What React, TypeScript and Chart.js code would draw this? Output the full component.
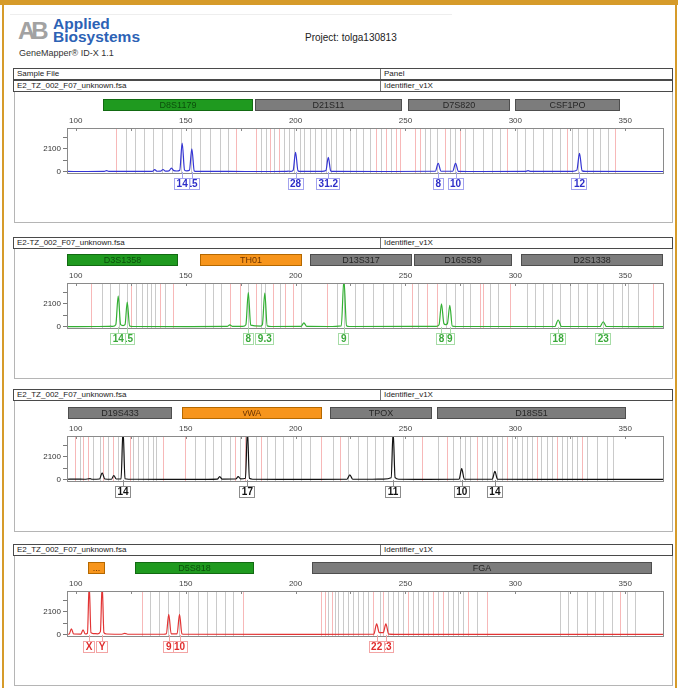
import React, { useEffect, useRef } from "react";
import { Chart, registerables } from "chart.js";
Chart.register(...registerables);

const FONT = "Arial, 'Liberation Sans', Helvetica, sans-serif";

// ---- shared axis data ----
const xTicks = [100, 125, 150, 175, 200, 225, 250, 275, 300, 325, 350];
const xLabelTicks = [100, 150, 200, 250, 300, 350];
const yTicks = [0, 1050, 2100, 3150];
const yLabelTicks = [0, 2100];
const X_MIN = 96;
const X_MAX = 367.2;
const Y_MIN = -100;
const Y_MAX = 4000;

// ---- panel 1 (blue) ----
const markerNames1 = ["D8S1179", "D21S11", "D7S820", "CSF1PO"];
const markerStart1 = [112.3, 181.5, 251.1, 299.8];
const markerEnd1 = [180.6, 248.4, 297.5, 347.6];
const markerKind1 = ["green", "gray", "gray", "gray"];
const binsGray1 = [122.8, 126.9, 130.9, 135.2, 139.4, 143.7, 148.1, 152.6, 156.4, 161, 165.5, 169.3,
  184.3, 186.5, 190.2, 194.8, 197, 199.2, 201.8, 204, 206.5, 209, 211.5, 213.8, 216.2, 218.6, 221.6, 224.7,
  227.7, 230.7, 233.7, 239.1, 243.6,
  258.9, 261.1, 264.2, 270.2, 272.5, 277, 280.8, 285.4, 289.2, 293,
  300.6, 304.4, 308.1, 312.7, 316.5, 320.3, 325.6, 328.6, 332.4, 335.4, 338.5, 342.3];
const binsRed1 = [118.5, 173.1, 182.2, 188.4, 192.6, 236.8, 241.3, 245.9, 247.4, 254.3, 256.6, 268, 274.8, 296, 323.3, 345.3];
const trace1 = [[96, 40], [105, 35], [113, 45], [114, 110], [115, 45], [125, 40], [134.8, 45], [135.9, 200], [137, 60],
  [138.6, 70], [139.7, 220], [140.8, 70], [142.4, 90], [143.5, 350], [144.6, 110], [146, 80], [147.3, 150], [148.4, 2626],
  [149.5, 160], [150.6, 90], [151.7, 140], [152.8, 2100], [153.9, 90], [155, 40], [170, 40], [185, 35], [195.6, 40],
  [196.6, 70], [197.6, 45], [198.9, 140], [200, 1790], [201.1, 110], [202.2, 40], [212, 45], [213.8, 120], [214.9, 1330],
  [216, 80], [217.2, 40], [240, 38], [263.6, 60], [264.9, 773], [266.2, 60], [271.5, 60], [272.8, 773], [274.1, 50],
  [285, 35], [304.5, 40], [305.8, 110], [307.1, 40], [326, 40], [328, 160], [329.2, 1700], [330.4, 90], [332, 40], [367.2, 35]];
const alleles1 = ["14", "15", "28", "31.2", "8", "10", "12"];
const allelePos1 = [148.4, 152.9, 200, 214.9, 264.9, 272.8, 329.2];

// ---- panel 2 (green) ----
const markerNames2 = ["D3S1358", "TH01", "D13S317", "D16S539", "D2S1338"];
const markerStart2 = [95.9, 156.4, 206.5, 253.8, 302.5];
const markerEnd2 = [146.4, 202.9, 252.9, 298.5, 367.2];
const markerKind2 = ["green", "orange", "gray", "gray", "gray"];
const binsGray2 = [111.7, 115.5, 119.6, 123.1, 127.6, 129.9, 132.2, 134.4, 135.9, 140.5, 158.7, 162.5, 166.3,
  178.4, 184.5, 186, 192.9, 202.7, 218.7, 222, 227, 230.8, 235.3, 239.9, 244.4, 248.2, 255.8, 268.3, 272.5,
  276.3, 279.3, 288.4, 292.2, 305.1, 308.9, 312.7, 316.5, 320.3, 324.8, 328.6, 332.4, 337, 340, 344.6, 348.4,
  351.4, 356];
const binsRed2 = [107.1, 125.3, 138.2, 144.3, 170.1, 174.6, 182.2, 189.8, 195.1, 198.9, 214.1, 252.8, 259.6,
  264.2, 283.9, 285.4, 297.5, 362.8];
const trace2 = [[96, 30], [110, 35], [114.8, 40], [115.8, 70], [116.8, 40], [118.2, 200], [119.3, 2820], [120.4, 200],
  [121.5, 120], [122.4, 200], [123.4, 2250], [124.5, 80], [126, 35], [150, 30], [168.9, 40], [170.1, 190], [171.3, 40],
  [176, 50], [177.4, 200], [178.5, 3130], [179.6, 160], [184, 70], [184.9, 200], [186, 3070], [187.1, 90], [189, 35],
  [202.5, 40], [203.8, 375], [205.1, 40], [215, 35], [220.8, 100], [222, 4300], [223.2, 100], [224.5, 35], [264, 50],
  [265.3, 200], [266.4, 2100], [267.5, 300], [268.3, 200], [269.1, 300], [270.2, 1970], [271.3, 80], [273, 35],
  [318, 35], [319.5, 630], [321, 35], [338.5, 35], [340, 470], [341.5, 35], [367.2, 30]];
const alleles2 = ["14", "15", "8", "9.3", "9", "8", "9", "18", "23"];
const allelePos2 = [119.3, 123.5, 178.5, 186, 222, 266.4, 270.2, 319.5, 340];

// ---- panel 3 (black) ----
const markerNames3 = ["D19S433", "vWA", "TPOX", "D18S51"];
const markerStart3 = [96.4, 148.2, 215.6, 264.3];
const markerEnd3 = [143.7, 212, 262, 350.3];
const markerKind3 = ["gray", "orange", "gray", "gray"];
const binsGray3 = [101.8, 107.9, 110.9, 114.7, 119.3, 126.1, 128.4, 130.6, 132.9, 135.2, 136.7, 154.2, 158.7,
  162.5, 166.3, 170.1, 174.6, 182.2, 186.8, 190.6, 194.4, 198.9, 202.7, 206.5, 217.1, 223.9, 228.5, 232.3, 236.1,
  239.9, 249, 253.6, 264.9, 271.7, 274.8, 277.1, 279.3, 284.7, 287, 289.2, 291.5, 293.8, 298.3, 300.6, 302.9,
  305.1, 307.4, 311.9, 314.2, 316.5, 321.1, 323.3, 325.6, 327.9, 332.4, 337, 341.6, 344.6];
const binsRed3 = [99.5, 103.3, 105.6, 112.4, 117, 124.6, 139.7, 149.6, 172.4, 176.9, 184.5, 211.8, 220.2, 257.4,
  268.7, 282.4, 296, 309.7, 318.8, 330.2];
const trace3 = [[96, 60], [100, 70], [104, 60], [106.5, 110], [107.5, 60], [110.8, 80], [112, 650], [113.2, 80],
  [116.2, 60], [117.3, 400], [118.4, 80], [120.6, 100], [121.5, 4600], [122.4, 100], [124, 60], [140, 55], [160, 55],
  [164.4, 70], [165.5, 300], [166.6, 70], [172.8, 80], [173.9, 300], [175, 90], [177.2, 150], [178.1, 4600], [179, 150],
  [180.5, 60], [200, 55], [223.4, 60], [224.7, 460], [226, 60], [235, 60], [240, 70], [243.5, 200], [244.4, 4400],
  [245.3, 200], [247, 60], [260, 55], [274.4, 60], [275.6, 1020], [276.8, 60], [289.5, 60], [290.7, 770], [291.9, 60],
  [310, 50], [367.2, 50]];
const alleles3 = ["14", "17", "11", "10", "14"];
const allelePos3 = [121.5, 178.1, 244.4, 275.6, 290.7];

// ---- panel 4 (red) ----
const markerNames4 = ["...", "D5S818", "FGA"];
const markerStart4 = [105.5, 126.9, 207.4];
const markerEnd4 = [113.2, 181, 362.2];
const markerKind4 = ["orange", "green", "gray"];
const binsGray4 = [133.7, 137.8, 142, 146.9, 151.1, 155.7, 159.5, 164, 167.8, 171.6, 214.8, 217.9, 219.4, 221.7,
  223.9, 226.2, 228.5, 230.8, 233, 238.4, 242.2, 244.4, 246.7, 249, 253.6, 255.8, 258.1, 260.4, 264.9, 269.5,
  271.7, 274, 276.3, 282.4, 320.3, 324.1, 327.9, 332.4, 336.2, 340, 343.8, 350.6, 354.4];
const binsRed4 = [129.9, 175.9, 211.8, 213.3, 216.4, 235.3, 239.9, 251.3, 262.6, 267.2, 278.6, 287, 347.6];
const trace4 = [[96, 60], [97, 80], [98, 560], [99, 80], [102.3, 70], [103.3, 470], [104.3, 80], [105.3, 150],
  [106.1, 4600], [106.9, 200], [108, 120], [110, 100], [111.2, 300], [112, 4600], [112.8, 200], [114, 80], [121, 60],
  [122.3, 140], [123.6, 60], [140, 60], [141.2, 100], [142.3, 1880], [143.4, 100], [146.1, 100], [147.2, 1880],
  [148.3, 80], [150, 60], [200, 55], [235.6, 70], [236.9, 1000], [238.1, 200], [239.9, 200], [241.1, 1000],
  [242.4, 70], [245, 55], [367.2, 55]];
const alleles4 = ["X", "Y", "9", "10", "22", "23"];
const allelePos4 = [106.1, 112, 142.3, 147.2, 236.9, 241.2];

const plotTops = [128, 283, 436, 591];

const MARKER_COLORS: Record<string, { fill: string; stroke: string; text: string }> = {
  green: { fill: "#1f9a1f", stroke: "#126a12", text: "#0c4f0c" },
  gray: { fill: "#7c7c7c", stroke: "#4e4e4e", text: "#262626" },
  orange: { fill: "#f7951c", stroke: "#b46800", text: "#6d3500" },
};

const PANEL_STYLES = [
  { trace: "#3535d4", box: "#a3a3ee", text: "#2d2dc8" },
  { trace: "#33b033", box: "#a6dca6", text: "#3aa93a" },
  { trace: "#121212", box: "#8c8c8c", text: "#111111" },
  { trace: "#e23434", box: "#f3a5a5", text: "#e02c2c" },
];

type PanelCfg = {
  names: string[]; starts: number[]; ends: number[]; kinds: string[];
  gray: number[]; red: number[]; trace: number[][]; alleles: string[]; allelePos: number[];
  style: { trace: string; box: string; text: string }; plotTop: number;
};

const panels: PanelCfg[] = [
  { names: markerNames1, starts: markerStart1, ends: markerEnd1, kinds: markerKind1, gray: binsGray1, red: binsRed1, trace: trace1, alleles: alleles1, allelePos: allelePos1, style: PANEL_STYLES[0], plotTop: plotTops[0] },
  { names: markerNames2, starts: markerStart2, ends: markerEnd2, kinds: markerKind2, gray: binsGray2, red: binsRed2, trace: trace2, alleles: alleles2, allelePos: allelePos2, style: PANEL_STYLES[1], plotTop: plotTops[1] },
  { names: markerNames3, starts: markerStart3, ends: markerEnd3, kinds: markerKind3, gray: binsGray3, red: binsRed3, trace: trace3, alleles: alleles3, allelePos: allelePos3, style: PANEL_STYLES[2], plotTop: plotTops[2] },
  { names: markerNames4, starts: markerStart4, ends: markerEnd4, kinds: markerKind4, gray: binsGray4, red: binsRed4, trace: trace4, alleles: alleles4, allelePos: allelePos4, style: PANEL_STYLES[3], plotTop: plotTops[3] },
];

function makePlugin(p: PanelCfg) {
  return {
    id: "panelDecor",
    beforeDatasetsDraw(chart: any) {
      const { ctx, chartArea: a, scales } = chart;
      const x = scales.x;
      ctx.save();
      ctx.lineWidth = 1;
      const groups: [number[], string][] = [[p.gray, "#cacaca"], [p.red, "#f7b8b8"]];
      for (const [list, color] of groups) {
        ctx.strokeStyle = color;
        ctx.beginPath();
        for (const v of list) {
          const px = Math.round(x.getPixelForValue(v)) + 0.5;
          ctx.moveTo(px, a.top);
          ctx.lineTo(px, a.bottom);
        }
        ctx.stroke();
      }
      ctx.restore();
    },
    afterDatasetsDraw(chart: any) {
      const { ctx, chartArea: a, scales } = chart;
      const x = scales.x;
      const y = scales.y;
      ctx.save();
      // plot frame
      ctx.strokeStyle = "#8a8a8a";
      ctx.lineWidth = 1;
      ctx.strokeRect(Math.round(a.left) + 0.5, Math.round(a.top) + 0.5, Math.round(a.right - a.left), Math.round(a.bottom - a.top));
      // inside x tick marks
      ctx.strokeStyle = "#888";
      ctx.beginPath();
      for (const v of xTicks) {
        const px = Math.round(x.getPixelForValue(v)) + 0.5;
        ctx.moveTo(px, a.top);
        ctx.lineTo(px, a.top + 3);
      }
      ctx.stroke();
      // marker bars
      const barTop = a.top - 29;
      const barH = 12;
      ctx.font = `9px ${FONT}`;
      ctx.textAlign = "center";
      ctx.textBaseline = "middle";
      p.names.forEach((name, i) => {
        const c = MARKER_COLORS[p.kinds[i]];
        const x0 = Math.round(x.getPixelForValue(p.starts[i]));
        const x1 = Math.round(x.getPixelForValue(p.ends[i]));
        ctx.fillStyle = c.fill;
        ctx.fillRect(x0, barTop, x1 - x0, barH);
        ctx.strokeStyle = c.stroke;
        ctx.strokeRect(x0 + 0.5, barTop + 0.5, x1 - x0 - 1, barH - 1);
        ctx.fillStyle = c.text;
        ctx.fillText(name, (x0 + x1) / 2, barTop + barH / 2 + 0.5);
      });
      // allele labels (drawn right to left so left labels sit on top)
      const y0 = y.getPixelForValue(0);
      const boxTop = a.bottom + 5;
      const boxH = 12;
      ctx.font = `bold 10px ${FONT}`;
      for (let i = p.alleles.length - 1; i >= 0; i--) {
        const cx = x.getPixelForValue(p.allelePos[i]);
        const tw = ctx.measureText(p.alleles[i]).width;
        const w = Math.max(11, Math.round(tw + 5));
        const bx = Math.round(cx - w / 2);
        ctx.strokeStyle = p.style.box;
        ctx.beginPath();
        ctx.moveTo(Math.round(cx) + 0.5, y0);
        ctx.lineTo(Math.round(cx) + 0.5, boxTop);
        ctx.stroke();
        ctx.fillStyle = "#ffffff";
        ctx.fillRect(bx, boxTop, w, boxH);
        ctx.strokeRect(bx + 0.5, boxTop + 0.5, w - 1, boxH - 1);
        ctx.fillStyle = p.style.text;
        ctx.fillText(p.alleles[i], cx, boxTop + boxH / 2 + 0.5);
      }
      ctx.restore();
    },
  };
}

function Panel({ cfg }: { cfg: PanelCfg }) {
  const ref = useRef<HTMLCanvasElement | null>(null);
  useEffect(() => {
    if (!ref.current) return;
    const chart = new Chart(ref.current, {
      type: "line",
      data: {
        datasets: [
          {
            data: cfg.trace.map(([bx, by]) => ({ x: bx, y: by })),
            borderColor: cfg.style.trace,
            borderWidth: 1.2,
            pointRadius: 0,
            fill: false,
            cubicInterpolationMode: "monotone",
          } as any,
        ],
      },
      options: {
        animation: false,
        responsive: false,
        maintainAspectRatio: false,
        events: [],
        layout: { padding: { top: 15, left: 0, right: 9, bottom: 23 } },
        plugins: { legend: { display: false }, tooltip: { enabled: false } },
        scales: {
          x: {
            type: "linear",
            position: "top",
            min: X_MIN,
            max: X_MAX,
            afterBuildTicks: (s: any) => { s.ticks = xTicks.map((v) => ({ value: v })); },
            afterFit: (s: any) => { s.height = 17; },
            grid: { display: false, drawTicks: false },
            border: { display: false },
            ticks: {
              padding: 2,
              maxRotation: 0,
              autoSkip: false,
              color: "#444",
              font: { size: 8, family: FONT },
              callback: (v: any) => (xLabelTicks.includes(Number(v)) ? String(v) : ""),
            },
          },
          y: {
            type: "linear",
            min: Y_MIN,
            max: Y_MAX,
            afterBuildTicks: (s: any) => { s.ticks = yTicks.map((v) => ({ value: v })); },
            afterFit: (s: any) => { s.width = 53; },
            grid: { display: true, drawOnChartArea: false, drawTicks: true, tickLength: 4, color: "#7a7a7a" },
            border: { display: false },
            ticks: {
              padding: 2,
              autoSkip: false,
              color: "#333",
              font: { size: 8, family: FONT },
              callback: (v: any) => (yLabelTicks.includes(Number(v)) ? String(v) : ""),
            },
          },
        },
      } as any,
      plugins: [makePlugin(cfg)],
    });
    return () => chart.destroy();
  }, [cfg]);
  return (
    <canvas
      ref={ref}
      width={658}
      height={100}
      style={{ position: "absolute", left: 14, top: cfg.plotTop - 32, width: 658, height: 100 }}
    />
  );
}

function HeaderRow({ top, left, right }: { top: number; left: string; right: string }) {
  return (
    <div
      style={{
        position: "absolute", left: 13, top, width: 658, height: 10, border: "1px solid #4a4a4a",
        fontSize: 8, lineHeight: "10px", color: "#222", background: "#fff",
      }}
    >
      <span style={{ position: "absolute", left: 3, top: 0, whiteSpace: "nowrap" }}>{left}</span>
      <div style={{ position: "absolute", left: 366, top: 0, width: 1, height: 10, background: "#777" }} />
      <span style={{ position: "absolute", left: 370, top: 0, whiteSpace: "nowrap" }}>{right}</span>
    </div>
  );
}

function PanelBody({ top, bottom }: { top: number; bottom: number }) {
  return (
    <div
      style={{
        position: "absolute", left: 14, top, width: 657, height: bottom - top - 1,
        borderLeft: "1px solid #b5b5b5", borderRight: "1px solid #b5b5b5", borderBottom: "1px solid #b5b5b5",
      }}
    />
  );
}

export default function App() {
  return (
    <div style={{ position: "absolute", left: 0, top: 0, width: 678, height: 688, background: "#fff", fontFamily: FONT, overflow: "hidden" }}>
      {/* orange frame */}
      <div style={{ position: "absolute", left: 0, top: 0, width: 678, height: 5, background: "#d69b2a" }} />
      <div style={{ position: "absolute", left: 2, top: 0, width: 2, height: 688, background: "#d69b2a" }} />
      <div style={{ position: "absolute", left: 675, top: 0, width: 2, height: 688, background: "#d69b2a" }} />
      <div style={{ position: "absolute", left: 10, top: 14, width: 442, height: 1, background: "#eeeeee" }} />

      {/* logo */}
      <div style={{ position: "absolute", left: 18, top: 17, fontSize: 24, fontWeight: "bold", color: "#a2a2a2", letterSpacing: -4, lineHeight: "28px" }}>AB</div>
      <div style={{ position: "absolute", left: 53, top: 17, fontSize: 15.5, fontWeight: "bold", color: "#2c62b5", lineHeight: "13px" }}>
        Applied<br />Biosystems
      </div>
      <div style={{ position: "absolute", left: 19, top: 48, fontSize: 9, color: "#333", lineHeight: "11px", whiteSpace: "nowrap" }}>GeneMapper® ID-X 1.1</div>
      <div style={{ position: "absolute", left: 305, top: 32, fontSize: 10, color: "#222", lineHeight: "12px", whiteSpace: "nowrap" }}>Project: tolga130813</div>

      {/* table */}
      <HeaderRow top={68} left="Sample File" right="Panel" />
      <HeaderRow top={80} left="E2_TZ_002_F07_unknown.fsa" right="Identifier_v1X" />
      <PanelBody top={92} bottom={223} />

      <HeaderRow top={237} left="E2-TZ_002_F07_unknown.fsa" right="Identifier_v1X" />
      <PanelBody top={249} bottom={379} />

      <HeaderRow top={389} left="E2_TZ_002_F07_unknown.fsa" right="Identifier_v1X" />
      <PanelBody top={401} bottom={532} />

      <HeaderRow top={544} left="E2_TZ_002_F07_unknown.fsa" right="Identifier_v1X" />
      <PanelBody top={556} bottom={686} />

      {panels.map((p, i) => (
        <Panel key={i} cfg={p} />
      ))}
    </div>
  );
}
